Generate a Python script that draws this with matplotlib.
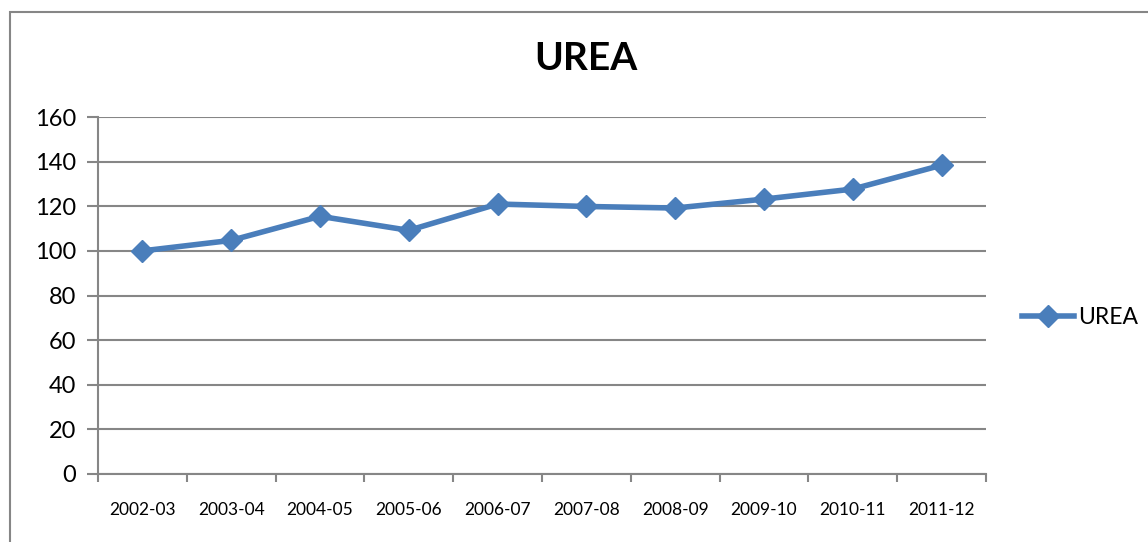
import matplotlib
matplotlib.use("Agg")
import matplotlib.pyplot as plt
from matplotlib.patches import Rectangle

# data
years = ["2002-03", "2003-04", "2004-05", "2005-06", "2006-07",
         "2007-08", "2008-09", "2009-10", "2010-11", "2011-12"]
urea = [100, 104.7, 115.5, 109.2, 121, 119.9, 119.2, 123.2, 127.7, 138.4]
yticks = [0, 20, 40, 60, 80, 100, 120, 140, 160]

plt.rcParams['font.family'] = ['Lato', 'DejaVu Sans']
grey = "#868686"
blue = "#4a7ebb"

fig = plt.figure(figsize=(11.48, 5.42), dpi=100)
# outer chart frame
fig.patches.append(Rectangle((10 / 1148, -0.1), 1.2, 1 - 12 / 542 + 0.1,
                             transform=fig.transFigure, fill=False,
                             edgecolor=grey, linewidth=1.5))

ax = fig.add_axes([98 / 1148, 1 - 474 / 542, 888 / 1148, 357 / 542])
x = list(range(len(years)))
ax.plot(x, urea, color=blue, linewidth=4, marker="D", markersize=11,
        label="UREA", zorder=3)

ax.set_xlim(-0.5, len(years) - 0.5)
ax.set_ylim(0, 160)
ax.set_yticks(yticks)
ax.yaxis.grid(True, color=grey, linewidth=1.5)
ax.set_axisbelow(True)

# category boundaries as major ticks, labels on centers
ax.set_xticks([i - 0.5 for i in range(len(years) + 1)])
ax.set_xticklabels([])
ax.set_xticks(x, minor=True)
ax.set_xticklabels(years, minor=True, fontsize=12.5)
ax.tick_params(axis="x", which="major", direction="out", length=6,
               width=1.5, color=grey)
ax.tick_params(axis="x", which="minor", length=0, pad=20)
ax.tick_params(axis="y", direction="out", length=8, width=1.5, color=grey,
               labelsize=17, pad=8)

for side in ["top", "right"]:
    ax.spines[side].set_visible(False)
for side in ["left", "bottom"]:
    ax.spines[side].set_color(grey)
    ax.spines[side].set_linewidth(1.5)

fig.text(586 / 1148, 1 - 58 / 542, "UREA", ha="center", va="center",
         fontsize=28, fontweight="bold")

ax.legend(loc="center left", bbox_to_anchor=(1.04, 0.437), frameon=False,
          fontsize=16.5, handlelength=2.3, handletextpad=0.15,
          borderpad=0, borderaxespad=0)

fig.savefig("out.png", dpi=100)
